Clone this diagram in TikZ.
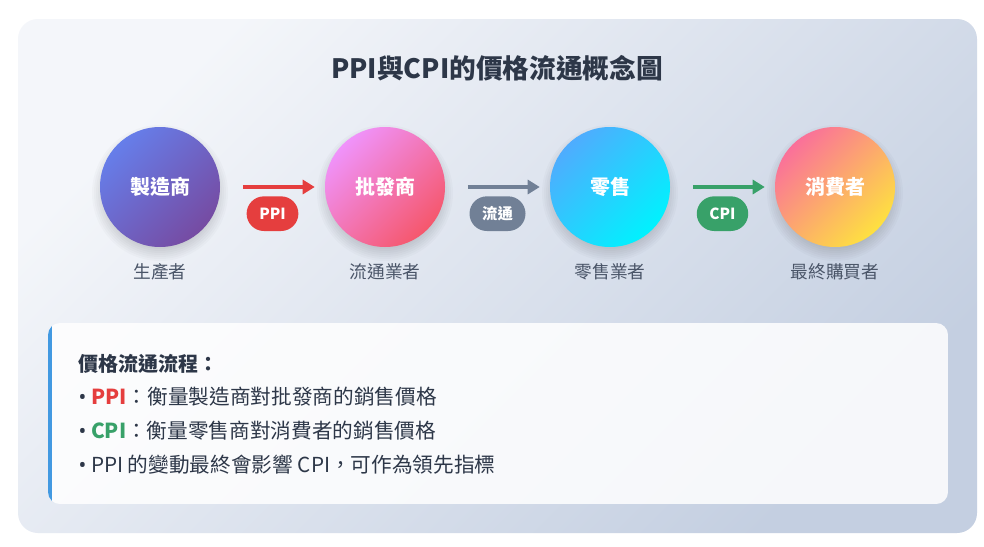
\documentclass[tikz,border=0pt]{standalone}
\usepackage{fontspec}
\setmainfont{Noto Sans CJK TC}
\newfontfamily\latinfont{Noto Sans}
\usepackage{xcolor}
\usepackage{tikz}
\usetikzlibrary{arrows.meta}
\definecolor{panelA}{HTML}{F4F6FA}
\definecolor{panelB}{HTML}{C4CFE1}
\definecolor{titletext}{HTML}{2D3748}
\definecolor{subtext}{HTML}{4A5568}
\definecolor{ppired}{HTML}{E53E3E}
\definecolor{flowgray}{HTML}{718096}
\definecolor{cpigreen}{HTML}{38A169}
\definecolor{accent}{HTML}{4299E1}
\definecolor{makerA}{HTML}{667EEA}
\definecolor{makerB}{HTML}{764BA2}
\definecolor{wholeA}{HTML}{F093FB}
\definecolor{wholeB}{HTML}{F5576C}
\definecolor{retailA}{HTML}{4FACFE}
\definecolor{retailB}{HTML}{00F2FE}
\definecolor{buyerA}{HTML}{FA709A}
\definecolor{buyerB}{HTML}{FEE140}
\newcommand{\dotmark}{{\latinfont•}}

\begin{document}
\begin{tikzpicture}[x=0.75pt, y=-0.75pt,
    stage/.style={circle, minimum size=90pt, inner sep=0pt, text=white,
      font=\fontsize{15}{18}\selectfont\bfseries},
    stagefill/.style 2 args={top color=#1, bottom color=#2, shading angle=45},
    role/.style={text=subtext, font=\fontsize{13.3}{16}\selectfont},
    flow/.style={line width=3pt, -{Triangle[length=9pt, width=10.5pt]}, shorten <=17pt, shorten >=7.5pt},
    pill/.style={rounded corners=13pt, minimum height=26pt, inner xsep=9.5pt, text=white,
      font=\fontsize{11.5}{13}\selectfont\bfseries, yshift=-20pt},
    infoline/.style={anchor=west, text=titletext, font=\fontsize{15.5}{18}\selectfont}]
    \fill[white] (0,0) rectangle (984,546);
    \useasboundingbox (0,0) rectangle (984,546);
    \shade[rounded corners=15pt, top color=panelA, bottom color=panelB, shading angle=45] (18,19) rectangle (977,533);
    \node[text=titletext, font=\fontsize{20}{24}\selectfont\bfseries] (title) at (497,68) {PPI與CPI的價格流通概念圖};
    % soft shadows under the stages
    \foreach \cx in {160,385,610,835}
      \foreach \k in {0,...,9}
        \fill[black, opacity=0.018] (\cx,193) circle[radius={(50+2*\k)*0.75pt}];
    % the four stages
    \node[stage, stagefill={makerA}{makerB}] (maker) at (160,187) {製造商};
    \node[stage, stagefill={wholeA}{wholeB}] (whole) at (385,187) {批發商};
    \node[stage, stagefill={retailA}{retailB}] (retail) at (610,187) {零售};
    \node[stage, stagefill={buyerA}{buyerB}] (buyer) at (835,187) {消費者};
    \node[role] (makerrole) at (160,272) {生產者};
    \node[role] (wholerole) at (385,272) {流通業者};
    \node[role] (retailrole) at (610,272) {零售業者};
    \node[role] (buyerrole) at (835,272) {最終購買者};
    \draw[flow, ppired] (maker) -- node[pill, fill=ppired] (ppi) {PPI} (whole);
    \draw[flow, flowgray] (whole) -- node[pill, fill=flowgray] (dist) {流通} (retail);
    \draw[flow, cpigreen] (retail) -- node[pill, fill=cpigreen] (cpi) {CPI} (buyer);
    % info box
    \begin{scope}
      \clip[rounded corners=9pt] (48,323) rectangle (948,504);
      \fill[white, fill opacity=.85] (48,323) rectangle (948,504);
      \fill[accent] (48,323) rectangle (52,504);
    \end{scope}
    \node[infoline, font=\fontsize{15}{18}\selectfont\bfseries] (head) at (74,364) {價格流通流程：};
    \node[infoline] (lineppi) at (74,397) {\dotmark\ \textcolor{ppired}{\textbf{PPI}}：衡量製造商對批發商的銷售價格};
    \node[infoline] (linecpi) at (74,431) {\dotmark\ \textcolor{cpigreen}{\textbf{CPI}}：衡量零售商對消費者的銷售價格};
    \node[infoline] (linelead) at (74,465) {\dotmark\ PPI 的變動最終會影響 CPI，可作為領先指標};
\end{tikzpicture}
\end{document}
